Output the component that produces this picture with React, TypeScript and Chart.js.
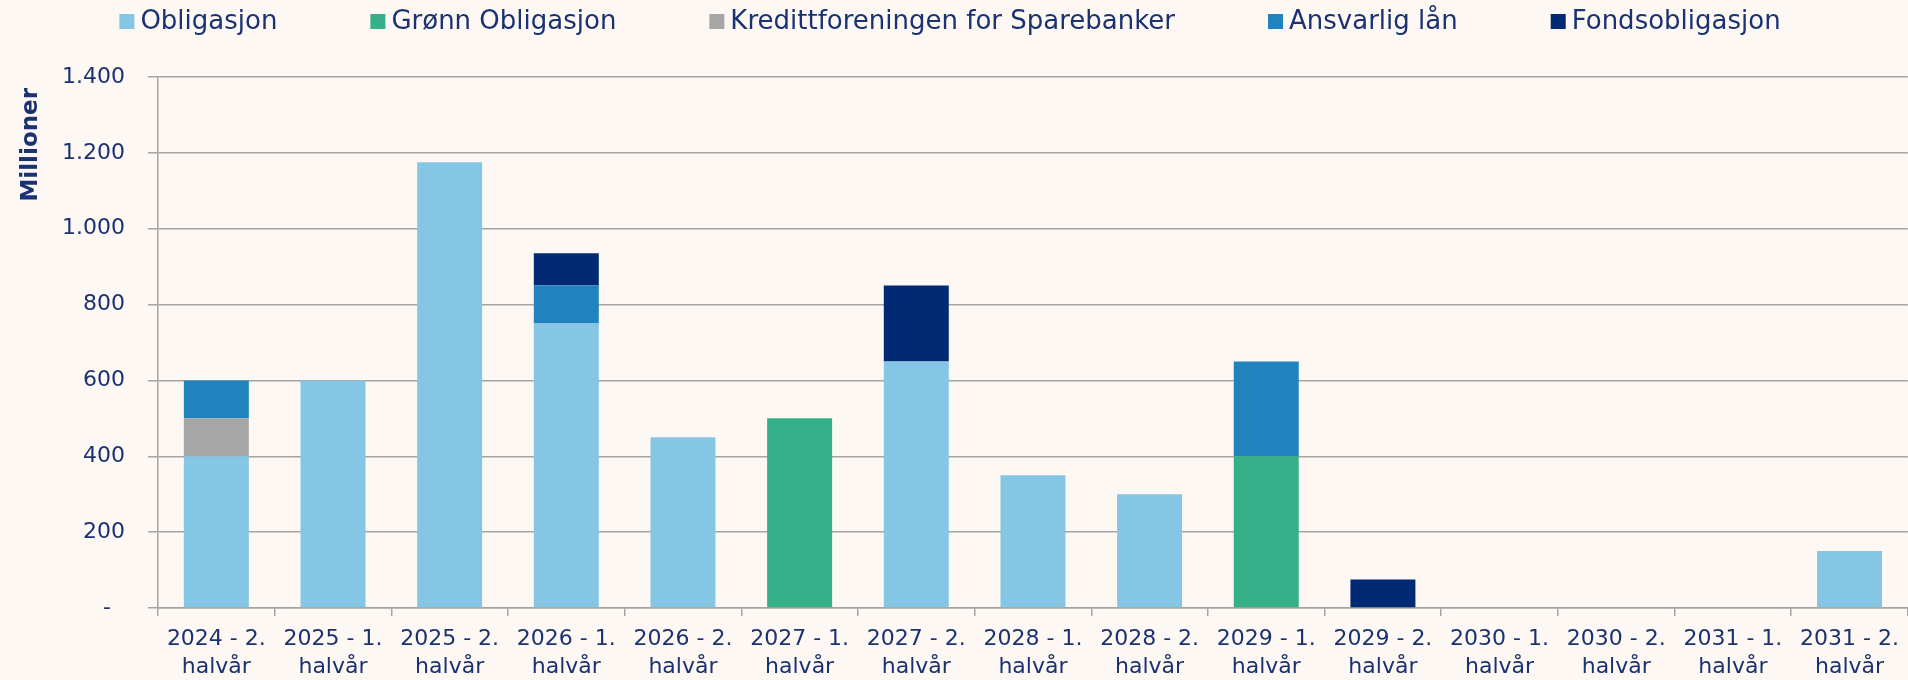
import React, { useEffect, useRef } from "react";
import { Chart, registerables } from "chart.js";

Chart.register(...registerables);

const categories: string[][] = [
  ["2024 - 2.", "halvår"],
  ["2025 - 1.", "halvår"],
  ["2025 - 2.", "halvår"],
  ["2026 - 1.", "halvår"],
  ["2026 - 2.", "halvår"],
  ["2027 - 1.", "halvår"],
  ["2027 - 2.", "halvår"],
  ["2028 - 1.", "halvår"],
  ["2028 - 2.", "halvår"],
  ["2029 - 1.", "halvår"],
  ["2029 - 2.", "halvår"],
  ["2030 - 1.", "halvår"],
  ["2030 - 2.", "halvår"],
  ["2031 - 1.", "halvår"],
  ["2031 - 2.", "halvår"],
];

const obligasjon = [400, 600, 1175, 750, 450, 0, 650, 350, 300, 0, 0, 0, 0, 0, 150];
const gronnObligasjon = [0, 0, 0, 0, 0, 500, 0, 0, 0, 400, 0, 0, 0, 0, 0];
const kredittforeningen = [100, 0, 0, 0, 0, 0, 0, 0, 0, 0, 0, 0, 0, 0, 0];
const ansvarligLan = [100, 0, 0, 100, 0, 0, 0, 0, 0, 250, 0, 0, 0, 0, 0];
const fondsobligasjon = [0, 0, 0, 85, 0, 0, 200, 0, 0, 0, 75, 0, 0, 0, 0];

const seriesNames = [
  "Obligasjon",
  "Grønn Obligasjon",
  "Kredittforeningen for Sparebanker",
  "Ansvarlig lån",
  "Fondsobligasjon",
];

const yTicks = [0, 200, 400, 600, 800, 1000, 1200, 1400];
const yTitle = "Millioner";

const TEXT = "#1b3272";
const GRID = "#a6a4a2";
const BG = "#fdf8f4";
const colors = ["#86c6e5", "#35b088", "#a6a6a6", "#2183bd", "#022a74"];

function fmt(v: number): string {
  if (v === 0) return "-  ";
  if (v >= 1000) return `${Math.floor(v / 1000)}.${String(v % 1000).padStart(3, "0")}`;
  return String(v);
}

const topLegend = {
  id: "topLegend",
  afterDraw(chart: any) {
    const ctx = chart.ctx as CanvasRenderingContext2D;
    ctx.save();
    ctx.font = '26px "DejaVu Sans"';
    ctx.textBaseline = "middle";
    ctx.textAlign = "left";
    const box = 15;
    const gapText = 6;
    const gapItem = 93;
    const items = chart.data.datasets.map((ds: any) => ({
      text: ds.label as string,
      color: ds.backgroundColor as string,
      w: ctx.measureText(ds.label).width,
    }));
    const total =
      items.reduce((s: number, it: any) => s + box + gapText + it.w, 0) + gapItem * (items.length - 1);
    let x = chart.width / 2 - 4 - total / 2;
    const cy = 21.5;
    for (const it of items) {
      ctx.fillStyle = it.color;
      ctx.fillRect(x, cy - box / 2, box, box);
      x += box + gapText;
      ctx.fillStyle = TEXT;
      ctx.fillText(it.text, x, cy + 1);
      x += it.w + gapItem;
    }

    // y-axis title, rotated, aligned near the top of the axis
    ctx.font = 'bold 23px "DejaVu Sans"';
    ctx.fillStyle = TEXT;
    ctx.translate(31, 88);
    ctx.rotate(-Math.PI / 2);
    ctx.textAlign = "right";
    ctx.textBaseline = "middle";
    ctx.fillText(yTitle, 0, 0);
    ctx.restore();
  },
};

export default function App() {
  const ref = useRef<HTMLCanvasElement | null>(null);

  useEffect(() => {
    if (!ref.current) return;
    const seriesData = [obligasjon, gronnObligasjon, kredittforeningen, ansvarligLan, fondsobligasjon];
    const chart = new Chart(ref.current, {
      type: "bar",
      data: {
        labels: categories,
        datasets: seriesNames.map((name, i) => ({
          label: name,
          data: seriesData[i],
          backgroundColor: colors[i],
          borderWidth: 0,
          categoryPercentage: 1,
          barPercentage: 0.557,
        })),
      },
      plugins: [topLegend],
      options: {
        animation: false,
        responsive: false,
        maintainAspectRatio: false,
        layout: { padding: { top: 77, left: 0, right: 0, bottom: 0 } },
        plugins: {
          legend: { display: false },
          tooltip: { enabled: false },
        },
        scales: {
          x: {
            stacked: true,
            afterFit: (scale: any) => {
              scale.height = 72;
            },
            grid: {
              display: true,
              drawOnChartArea: false,
              drawTicks: true,
              tickLength: 8,
              offset: true,
              color: GRID,
              lineWidth: 1.5,
            },
            border: { display: true, color: GRID, width: 1.5 },
            ticks: {
              color: TEXT,
              font: { family: "DejaVu Sans", size: 22, lineHeight: "28px" },
              padding: 9,
              maxRotation: 0,
              autoSkip: false,
            },
          },
          y: {
            stacked: true,
            min: 0,
            max: 1400,
            afterBuildTicks: (scale: any) => {
              scale.ticks = yTicks.map((v) => ({ value: v }));
            },
            afterFit: (scale: any) => {
              scale.width = 158;
            },
            grid: {
              display: true,
              drawOnChartArea: true,
              drawTicks: true,
              tickLength: 10,
              color: GRID,
              lineWidth: 1.5,
            },
            border: { display: true, color: GRID, width: 1.5 },
            ticks: {
              color: TEXT,
              font: { family: "DejaVu Sans", size: 22 },
              padding: 23,
              callback: (v: any) => fmt(Number(v)),
            },
          },
        },
      },
    });
    return () => chart.destroy();
  }, []);

  return (
    <div
      style={{
        position: "fixed",
        left: 0,
        top: 0,
        width: 1908,
        height: 680,
        background: BG,
      }}
    >
      <canvas ref={ref} width={1908} height={680} style={{ display: "block", width: 1908, height: 680 }} />
    </div>
  );
}
